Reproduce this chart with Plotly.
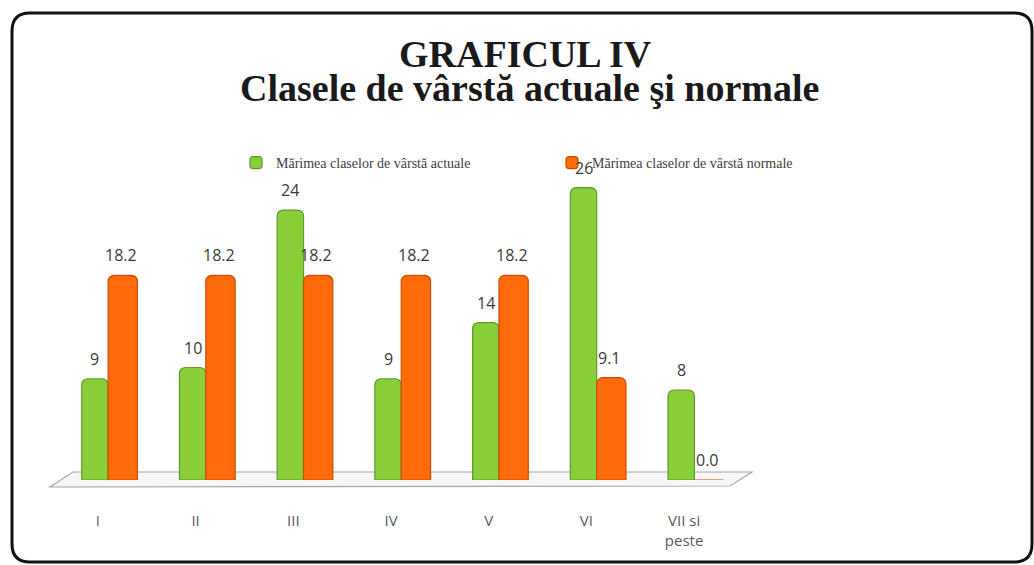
import plotly.graph_objects as go

categories = ["I", "II", "III", "IV", "V", "VI", "VII si<br>peste"]
actual_values = [9, 10, 24, 9, 14, 26, 8]
normal_values = [18.2, 18.2, 18.2, 18.2, 18.2, 9.1, 0.0]
actual_labels = ["9", "10", "24", "9", "14", "26", "8"]
normal_labels = ["18.2", "18.2", "18.2", "18.2", "18.2", "9.1", "0.0"]
series_names = ["Mărimea claselor de vârstă actuale", "Mărimea claselor de vârstă normale"]
title_line1 = "GRAFICUL IV"
title_line2 = "Clasele de vârstă actuale şi normale"

W, H = 1034, 565
L, R, T, B = 49, 301, 170, 85
PW, PH = W - L - R, H - T - B

def px(x):
    return (x - L) / PW

def py(y):
    return (H - B - y) / PH

GREEN = "#88cf3a"
GREEN_EDGE = "#5c9a2a"
ORANGE = "#ff6a0a"
ORANGE_EDGE = "#c94e00"

fig = go.Figure()
fig.add_trace(go.Bar(
    x=categories, y=actual_values, name=series_names[0], legend="legend",
    width=0.27, offset=-0.165,
    marker=dict(color=GREEN, line=dict(color=GREEN_EDGE, width=1.2), cornerradius=6),
))
fig.add_trace(go.Bar(
    x=categories, y=normal_values, name=series_names[1], legend="legend2",
    width=0.30, offset=0.105,
    marker=dict(color=ORANGE, line=dict(color=ORANGE_EDGE, width=1.2), cornerradius=6),
))

label_font = dict(family="Open Sans", size=16, color="#3a3a3a")
annotations = []
for i, (v, t) in enumerate(zip(actual_values, actual_labels)):
    annotations.append(dict(x=i - 0.165 + 0.135, y=v, xref="x", yref="y", text=t,
                            showarrow=False, yshift=20, font=label_font))
for i, (v, t) in enumerate(zip(normal_values, normal_labels)):
    annotations.append(dict(x=i + 0.105 + 0.13, y=v, xref="x", yref="y", text=t,
                            showarrow=False, yshift=20, font=label_font))

annotations.append(dict(x=px(525), y=py(67), xref="paper", yref="paper", text="<b>" + title_line1 + "</b>",
                        showarrow=False, xanchor="center", yanchor="bottom", yshift=-10,
                        font=dict(family="Liberation Serif", size=38, color="#1a1a1a")))
annotations.append(dict(x=px(529), y=py(101), xref="paper", yref="paper", text="<b>" + title_line2 + "</b>",
                        showarrow=False, xanchor="center", yanchor="bottom", yshift=-10,
                        font=dict(family="Liberation Serif", size=38, color="#1a1a1a")))

shapes = []
floor_pts = [(50, 487), (73, 472), (752, 472), (730, 486)]
path = "M " + " L ".join(f"{px(a)},{py(b)}" for a, b in floor_pts) + " Z"
shapes.append(dict(type="path", path=path, xref="paper", yref="paper",
                   line=dict(color="#a6a6a6", width=1.2), fillcolor="#f7f7f7", layer="below"))

x0, x1, y0, y1, r = 12, 1032, 13, 562, 18
def P(a, b):
    return f"{px(a)},{py(b)}"
border = (f"M {P(x0 + r, y0)} L {P(x1 - r, y0)} Q {P(x1, y0)} {P(x1, y0 + r)} "
          f"L {P(x1, y1 - r)} Q {P(x1, y1)} {P(x1 - r, y1)} "
          f"L {P(x0 + r, y1)} Q {P(x0, y1)} {P(x0, y1 - r)} "
          f"L {P(x0, y0 + r)} Q {P(x0, y0)} {P(x0 + r, y0)} Z")
shapes.append(dict(type="path", path=border, xref="paper", yref="paper",
                   line=dict(color="#111111", width=3), fillcolor="rgba(0,0,0,0)", layer="above"))

legend_font = dict(family="Liberation Serif", size=14, color="#404040")
fig.update_layout(
    width=W, height=H,
    margin=dict(l=L, r=R, t=T, b=B, autoexpand=False),
    paper_bgcolor="white", plot_bgcolor="white",
    barmode="overlay",
    showlegend=True,
    legend=dict(orientation="h", x=px(236), y=py(163), xanchor="left", yanchor="middle",
                itemwidth=30, font=legend_font, bgcolor="rgba(0,0,0,0)"),
    legend2=dict(orientation="h", x=px(552), y=py(163), xanchor="left", yanchor="middle",
                 itemwidth=30, font=legend_font, bgcolor="rgba(0,0,0,0)"),
    xaxis=dict(type="category", range=[-0.5, 6.5], showgrid=False, zeroline=False,
               showline=False, ticks="", ticklabelstandoff=30,
               tickfont=dict(family="Open Sans", size=15, color="#595959")),
    yaxis=dict(range=[0, 27.56], visible=False),
    annotations=annotations,
    shapes=shapes,
)

fig.write_html("out.html", config={"displayModeBar": False},
               post_script="document.body.style.margin='0';document.body.style.padding='0';")
